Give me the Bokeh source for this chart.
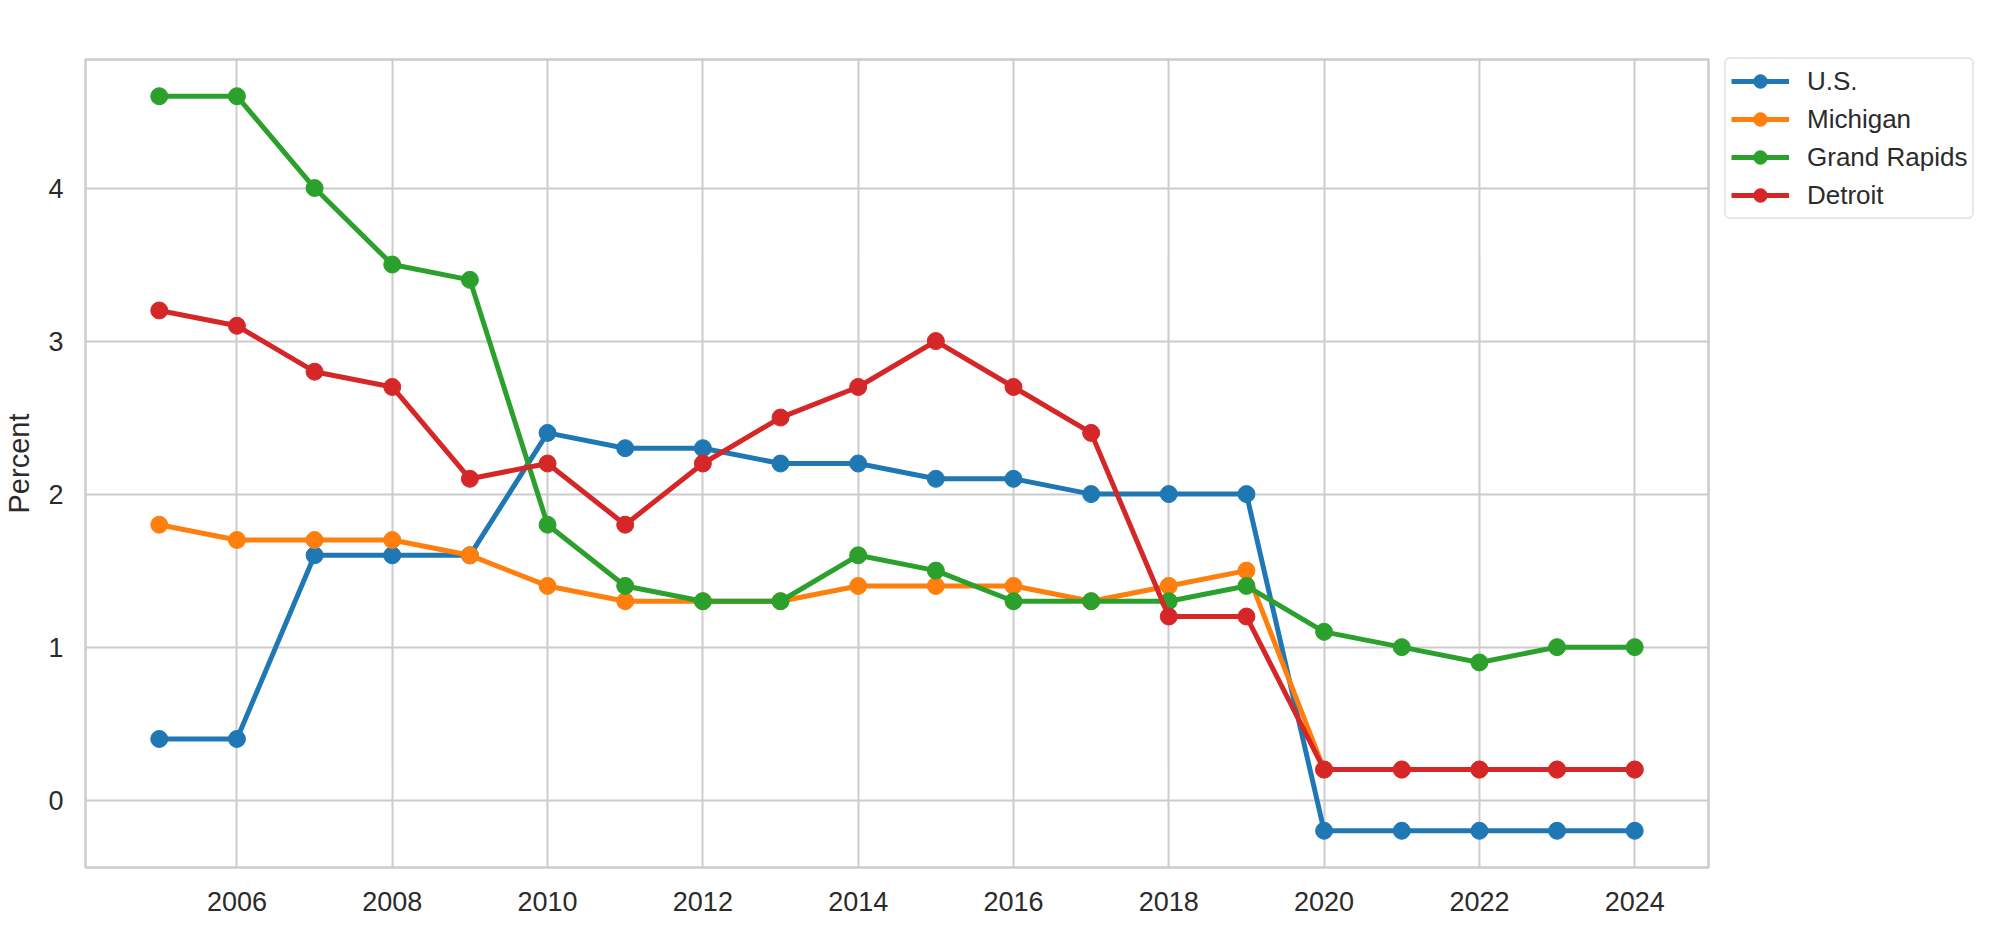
from bokeh.plotting import figure
from bokeh.models import Range1d, FixedTicker, Legend, LegendItem
from bokeh.embed import file_html
from bokeh.resources import INLINE

years = list(range(2005, 2025))
us = [0.4, 0.4, 1.6, 1.6, 1.6, 2.4, 2.3, 2.3, 2.2, 2.2, 2.1, 2.1, 2.0, 2.0, 2.0, -0.2, -0.2, -0.2, -0.2, -0.2]
michigan = [1.8, 1.7, 1.7, 1.7, 1.6, 1.4, 1.3, 1.3, 1.3, 1.4, 1.4, 1.4, 1.3, 1.4, 1.5, 0.2, 0.2, 0.2, 0.2, 0.2]
grand_rapids = [4.6, 4.6, 4.0, 3.5, 3.4, 1.8, 1.4, 1.3, 1.3, 1.6, 1.5, 1.3, 1.3, 1.3, 1.4, 1.1, 1.0, 0.9, 1.0, 1.0]
detroit = [3.2, 3.1, 2.8, 2.7, 2.1, 2.2, 1.8, 2.2, 2.5, 2.7, 3.0, 2.7, 2.4, 1.2, 1.2, 0.2, 0.2, 0.2, 0.2, 0.2]

series_names = ["U.S.", "Michigan", "Grand Rapids", "Detroit"]
series_values = [us, michigan, grand_rapids, detroit]
colors = ["#1f77b4", "#ff7f0e", "#2ca02c", "#d62728"]
x_ticks = list(range(2006, 2025, 2))
y_ticks = [0, 1, 2, 3, 4]

TEXT = "#2b2b2b"
GRID = "#cccccc"

p = figure(frame_width=1623, frame_height=808, output_backend="svg", toolbar_location=None,
           x_range=Range1d(2004.05, 2024.95), y_range=Range1d(-0.44, 4.84),
           min_border_left=84, min_border_top=59, min_border_right=10, min_border_bottom=58)

p.background_fill_color = "white"
p.border_fill_color = "white"
p.outline_line_color = GRID
p.outline_line_width = 2.5

for ax in (p.xaxis[0], p.yaxis[0]):
    ax.axis_line_color = None
    ax.major_tick_line_color = None
    ax.minor_tick_line_color = None
    ax.major_label_text_font = "Liberation Sans"
    ax.major_label_text_font_size = "27px"
    ax.major_label_text_color = TEXT

p.xaxis.ticker = FixedTicker(ticks=x_ticks)
p.yaxis.ticker = FixedTicker(ticks=y_ticks)
p.xaxis.major_label_standoff = 18
p.yaxis.major_label_standoff = 16
p.yaxis.axis_label = "Percent"
p.yaxis.axis_label_text_font = "Liberation Sans"
p.yaxis.axis_label_text_font_size = "29px"
p.yaxis.axis_label_text_font_style = "normal"
p.yaxis.axis_label_text_color = TEXT
p.yaxis.axis_label_standoff = 10

p.xgrid.grid_line_color = GRID
p.ygrid.grid_line_color = GRID
p.xgrid.grid_line_width = 2
p.ygrid.grid_line_width = 2

items = []
for name, vals, c in zip(series_names, series_values, colors):
    l = p.line(years, vals, line_color=c, line_width=5)
    s = p.scatter(years, vals, marker="circle", size=17, fill_color=c, line_color=c)
    items.append(LegendItem(label=name, renderers=[l, s]))

legend = Legend(items=items, location=(16, 648))
legend.label_text_font = "Liberation Sans"
legend.label_text_font_size = "26px"
legend.label_text_color = TEXT
legend.glyph_width = 58
legend.glyph_height = 34
legend.label_height = 34
legend.label_standoff = 18
legend.spacing = 4
legend.padding = 5
legend.margin = 0
legend.border_line_color = "#d0d0d0"
legend.border_line_width = 2
legend.background_fill_color = "white"
legend.background_fill_alpha = 1.0
try:
    legend.border_radius = 6
except Exception:
    pass
p.add_layout(legend, "right")

open("out.html", "w").write(file_html(p, INLINE))
